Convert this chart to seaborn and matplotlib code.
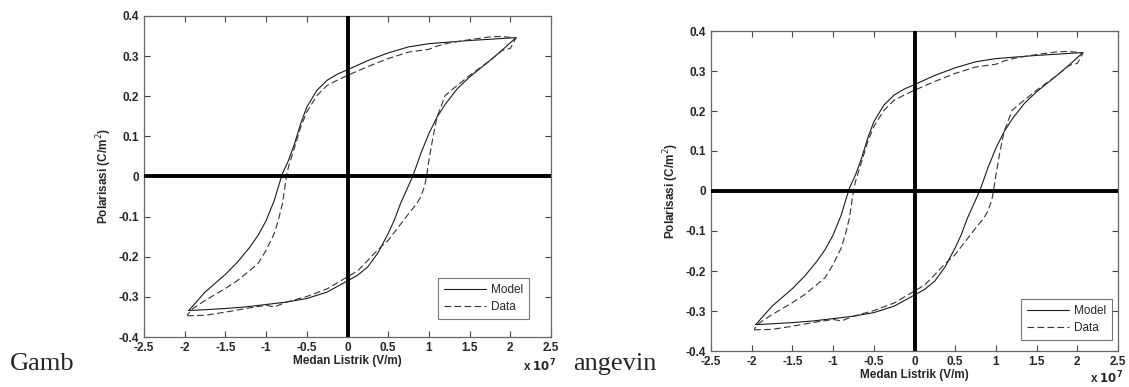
import matplotlib
matplotlib.use("Agg")
import matplotlib.pyplot as plt
import seaborn as sns
import pandas as pd

# Hysteresis loop: lower branch (ascending E) then upper branch (descending E), E in units of 1e7 V/m
model_E = [-1.95, -1.75, -1.5, -1.25, -1.0, -0.75, -0.5, -0.25, 0.0, 0.125, 0.25, 0.375, 0.5, 0.575, 0.65, 0.725,
           0.8, 0.85, 0.9, 1.0, 1.1, 1.2, 1.35, 1.5, 1.75, 1.9, 2.07,
           1.9, 1.75, 1.5, 1.25, 1.0, 0.75, 0.5, 0.25, 0.0, -0.125, -0.25, -0.375, -0.5, -0.575, -0.65, -0.725,
           -0.8, -0.85, -0.9, -1.0, -1.1, -1.2, -1.35, -1.5, -1.75, -1.95]
model_P = [-0.334, -0.332, -0.329, -0.325, -0.319, -0.313, -0.304, -0.288, -0.260, -0.246, -0.225, -0.190, -0.142, -0.109, -0.068, -0.034,
           0.000, 0.028, 0.057, 0.107, 0.148, 0.180, 0.219, 0.248, 0.289, 0.315, 0.346,
           0.344, 0.342, 0.339, 0.335, 0.331, 0.323, 0.308, 0.289, 0.266, 0.255, 0.240, 0.215, 0.173, 0.132, 0.082, 0.040,
           0.007, -0.026, -0.060, -0.110, -0.147, -0.176, -0.213, -0.244, -0.288, -0.334]

data_E = [-1.97, -1.75, -1.5, -1.25, -1.0, -0.9, -0.75, -0.5, -0.25, 0.0, 0.125, 0.25, 0.375, 0.5, 0.625, 0.75, 0.85,
          0.9, 0.95, 0.97, 1.0, 1.05, 1.1, 1.2, 1.3, 1.5, 1.75, 1.9, 2.0, 2.07,
          1.9, 1.75, 1.5, 1.25, 1.1, 1.0, 0.75, 0.5, 0.25, 0.0, -0.125, -0.25, -0.375, -0.5, -0.575, -0.65, -0.725,
          -0.75, -0.8, -0.85, -0.9, -1.0, -1.1, -1.2, -1.35, -1.5, -1.75, -1.9, -1.97]
data_P = [-0.347, -0.346, -0.338, -0.329, -0.321, -0.325, -0.313, -0.299, -0.280, -0.250, -0.235, -0.209, -0.182, -0.159, -0.126, -0.093, -0.068,
          -0.051, -0.022, 0.000, 0.040, 0.098, 0.148, 0.202, 0.219, 0.252, 0.289, 0.314, 0.319, 0.345,
          0.349, 0.348, 0.341, 0.333, 0.325, 0.317, 0.310, 0.294, 0.274, 0.252, 0.240, 0.227, 0.202, 0.161, 0.123, 0.073, 0.024,
          0.000, -0.068, -0.109, -0.142, -0.184, -0.217, -0.234, -0.259, -0.279, -0.309, -0.329, -0.345]

x_ticks = [-2.5, -2, -1.5, -1, -0.5, 0, 0.5, 1, 1.5, 2, 2.5]
x_labels = ["-2.5", "-2", "-1.5", "-1", "-0.5", "0", "0.5", "1", "1.5", "2", "2.5"]
y_ticks = [-0.4, -0.3, -0.2, -0.1, 0, 0.1, 0.2, 0.3, 0.4]
y_labels = ["-0.4", "-0.3", "-0.2", "-0.1", "0", "0.1", "0.2", "0.3", "0.4"]

sns.set_theme(style="ticks")
plt.rcParams["font.family"] = ["Liberation Sans", "DejaVu Sans"]

fig = plt.figure(figsize=(11.29, 3.87), dpi=100)
fig.patch.set_facecolor("white")

positions = [
    ([144/1129, 1-337/387, 407/1129, 321/387], (0.946, 0.056), -0.107),
    ([711/1129, 1-351/387, 407/1129, 320/387], (0.985, 0.034), -0.100),
]

dfm = pd.DataFrame({"E": model_E, "P": model_P})
dfd = pd.DataFrame({"E": data_E, "P": data_P})

FS = 8.5
for rect, leg_anchor, exp_y in positions:
    ax = fig.add_axes(rect)
    ax.set_facecolor("white")
    sns.lineplot(data=dfm, x="E", y="P", sort=False, estimator=None, ax=ax,
                 color="#1a1a1a", lw=0.8, label="Model")
    sns.lineplot(data=dfd, x="E", y="P", sort=False, estimator=None, ax=ax,
                 color="#333333", lw=0.8, linestyle=(0, (6, 3)), label="Data")
    ax.axhline(0, color="black", lw=2.8, zorder=3)
    ax.axvline(0, color="black", lw=2.8, zorder=3)
    ax.set_xlim(-2.5, 2.5)
    ax.set_ylim(-0.4, 0.4)
    ax.set_xticks(x_ticks)
    ax.set_xticklabels(x_labels, fontweight="bold", fontsize=FS)
    ax.set_yticks(y_ticks)
    ax.set_yticklabels(y_labels, fontweight="bold", fontsize=FS)
    ax.tick_params(direction="in", top=True, right=True, length=4, width=0.8,
                   color="#444444")
    ax.tick_params(axis="x", pad=3.5)
    ax.tick_params(axis="y", pad=3.5)
    for s in ax.spines.values():
        s.set_color("#666666")
        s.set_linewidth(0.9)
        s.set_visible(True)
    ax.set_xlabel("Medan Listrik (V/m)", fontweight="bold", fontsize=FS, labelpad=1)
    ax.set_ylabel("Polarisasi (C/m$^2$)", fontweight="bold", fontsize=FS, labelpad=3)
    ax.text(0.93, exp_y, r"x $\mathbf{10^7}$", transform=ax.transAxes, fontweight="bold",
            fontsize=FS, ha="left", va="baseline")
    leg = ax.legend(loc="lower right", bbox_to_anchor=leg_anchor, borderaxespad=0,
                    fontsize=FS, frameon=True, fancybox=False, handlelength=3.6,
                    handletextpad=0.4, borderpad=0.5, labelspacing=0.45)
    leg.get_frame().set_edgecolor("#555555")
    leg.get_frame().set_linewidth(0.8)

fig.text(10/1129, 1-370/387, "Gamb", family=["Liberation Serif", "DejaVu Serif"], fontsize=19,
         va="baseline", ha="left")
fig.text(573/1129, 1-370/387, "angevin", family=["Liberation Serif", "DejaVu Serif"], fontsize=19,
         va="baseline", ha="left")

fig.savefig("out.png", dpi=100, facecolor="white")
